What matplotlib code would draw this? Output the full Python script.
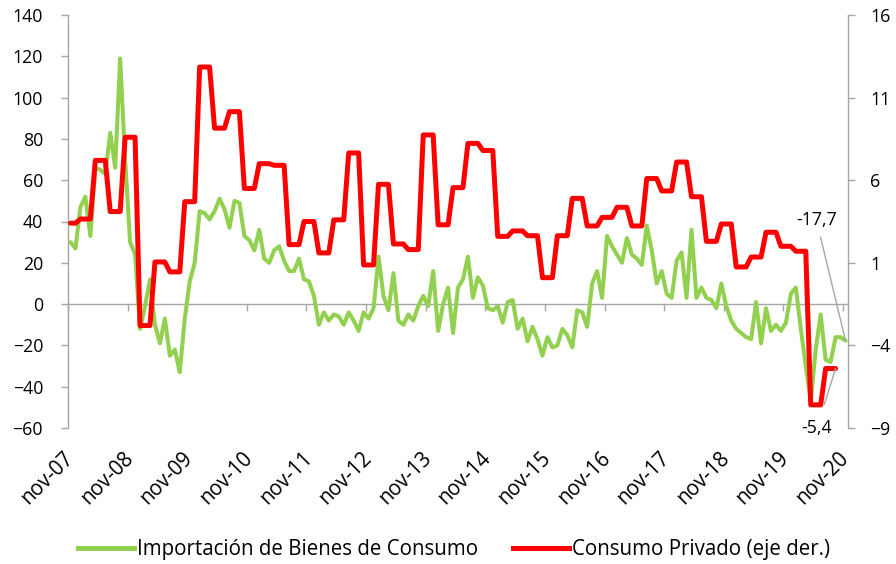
import matplotlib
matplotlib.use('Agg')
import matplotlib.pyplot as plt
import numpy as np
from matplotlib.transforms import blended_transform_factory, offset_copy
from matplotlib.lines import Line2D

plt.rcParams['font.family'] = ['Open Sans', 'DejaVu Sans']

# ---------------- data ----------------
x_labels = ['nov-07', 'nov-08', 'nov-09', 'nov-10', 'nov-11', 'nov-12', 'nov-13',
            'nov-14', 'nov-15', 'nov-16', 'nov-17', 'nov-18', 'nov-19', 'nov-20']

# Importación de Bienes de Consumo, monthly, nov-07 .. nov-20 (left axis)
importaciones = [
    30, 27, 47, 52, 33, 66, 65, 63, 83, 66, 119, 70,          # nov-07 .. oct-08
    30, 24, -12, -1, 12, -10, -19, -7, -25, -22, -33, -7,     # nov-08 .. oct-09
    11, 20, 45, 44, 41, 45, 51, 46, 37, 50, 49, 33,           # nov-09 .. oct-10
    31, 26, 36, 22, 20, 26, 28, 21, 16, 16, 22, 12,           # nov-10 .. oct-11
    11, 4, -10, -4, -8, -5, -6, -10, -4, -8, -13, -4,         # nov-11 .. oct-12
    -7, -2, 23, 4, -3, 15, -8, -10, -5, -8, -1, 4,            # nov-12 .. oct-13
    -1, 16, -13, 0, 8, -14, 8, 12, 23, 3, 13, 9,              # nov-13 .. oct-14
    -2, -3, -1, -9, 1, 2, -12, -7, -18, -11, -17, -25,        # nov-14 .. oct-15
    -16, -21, -20, -12, -15, -21, -3, -4, -11, 10, 16, 3,     # nov-15 .. oct-16
    33, 28, 24, 20, 32, 24, 22, 19, 38, 26, 10, 16,           # nov-16 .. oct-17
    5, 3, 21, 25, 3, 36, 3, 8, 3, 2, -2, 10,                  # nov-17 .. oct-18
    -1, -8, -12, -14, -16, -17, 1, -19, -2, -13, -10, -13,    # nov-18 .. oct-19
    -9, 5, 8, -12, -30, -47, -22, -5, -27, -28, -16, -16,     # nov-19 .. oct-20
    -17.7,                                                    # nov-20
]

# Consumo Privado, quarterly, Q4-07 .. Q3-20 (right axis)
consumo_trimestral = [
    3.4,                          # Q4-07
    3.65, 7.2, 4.1, 8.6,          # 2008
    -2.8, 1.05, 0.45, 4.7,        # 2009
    12.85, 9.15, 10.15, 5.5,      # 2010
    7.0, 6.9, 2.1, 3.5,           # 2011
    1.6, 3.6, 7.65, 0.87,         # 2012
    5.75, 2.14, 1.8, 8.74,        # 2013
    3.3, 5.55, 8.23, 7.8,         # 2014
    2.6, 2.93, 2.64, 0.1,         # 2015
    2.64, 4.9, 3.23, 3.75,        # 2016
    4.36, 3.23, 6.1, 5.35,        # 2017
    7.1, 5.0, 2.3, 3.35,          # 2018
    0.75, 1.35, 2.85, 2.0,        # 2019
    1.7, -7.6, -5.4,              # 2020
]

serie_verde = 'Importación de Bienes de Consumo'
serie_roja = 'Consumo Privado (eje der.)'
etiqueta_verde = '-17,7'
etiqueta_roja = '-5,4'

# ---------------- figure ----------------
GREEN = '#92D050'
RED = '#FF0000'
GRAY = '#A6A6A6'
FS = 12.8

n = len(importaciones)
x = np.arange(n)
# quarterly value held for each month of the quarter; Q4-07 starts in november
consumo_mensual = np.repeat(consumo_trimestral, 3)[1:]
xr = np.arange(len(consumo_mensual))

fig = plt.figure(figsize=(8.96, 5.64), dpi=100)
ax = fig.add_axes([68 / 896, 1 - 428 / 564, 780 / 896, 413 / 564])
ax2 = ax.twinx()

ax.plot(x, importaciones, color=GREEN, lw=2.9, solid_joinstyle='round',
        solid_capstyle='round', zorder=3)
ax2.plot(xr, consumo_mensual, color=RED, lw=3.6, solid_joinstyle='round',
         solid_capstyle='round', zorder=3)

ax.set_xlim(-0.5, n - 0.5)
ax.set_ylim(-60, 140)
ax2.set_ylim(-9, 16)
ax.set_yticks(np.arange(-60, 141, 20))
ax2.set_yticks(np.arange(-9, 17, 5))

for a in (ax, ax2):
    for s in a.spines.values():
        s.set_visible(False)
ax.spines['left'].set_visible(True)
ax.spines['left'].set_color(GRAY)
ax.spines['left'].set_linewidth(1.0)
ax2.spines['right'].set_visible(True)
ax2.spines['right'].set_color(GRAY)
ax2.spines['right'].set_linewidth(1.0)
ax.spines['bottom'].set_visible(True)
ax.spines['bottom'].set_position(('data', 0))
ax.spines['bottom'].set_color(GRAY)
ax.spines['bottom'].set_linewidth(1.0)
ax.spines['bottom'].set_zorder(1)

ax.tick_params(axis='y', direction='out', length=5, width=1.0, color=GRAY,
               labelsize=FS, pad=13, labelcolor='black')
ax2.tick_params(axis='y', direction='out', length=5, width=1.0, color=GRAY,
                labelsize=FS, pad=11, labelcolor='black')

tick_pos = np.arange(-0.5, n, 12)
ax.set_xticks(tick_pos)
ax.tick_params(axis='x', direction='out', length=5, width=1.0, color=GRAY,
               labelbottom=False)

tr = blended_transform_factory(ax.transData, ax.transAxes)
tr = offset_copy(tr, fig=fig, x=10, y=-20, units='dots')
for tp, lab in zip(tick_pos, x_labels):
    ax.text(tp, 0, lab, transform=tr, rotation=45, ha='right',
            va='top', fontsize=14.8, color='black')

# annotations
ax.annotate(etiqueta_verde, xy=(x[-1], importaciones[-1]), xytext=(-21, 87),
            textcoords='offset points', ha='center', va='center', fontsize=FS,
            arrowprops=dict(arrowstyle='-', color=GRAY, lw=1.0,
                            shrinkA=4, shrinkB=0), zorder=5)
ax2.annotate(etiqueta_roja, xy=(xr[-1], consumo_mensual[-1]), xytext=(-13.5, -43),
             textcoords='offset points', ha='center', va='center', fontsize=FS,
             arrowprops=dict(arrowstyle='-', color=GRAY, lw=1.0,
                             shrinkA=9, shrinkB=0), zorder=5, annotation_clip=False)

# legend
h1 = Line2D([], [], color=GREEN, lw=3.6)
h2 = Line2D([], [], color=RED, lw=3.6)
fig.legend([h1, h2], [serie_verde, serie_roja], loc='center',
           bbox_to_anchor=(454 / 896, 1 - 550 / 564), ncol=2, frameon=False,
           fontsize=14.8, handlelength=2.7, handletextpad=0.15, columnspacing=1.7)

fig.savefig('out.png', dpi=100)
